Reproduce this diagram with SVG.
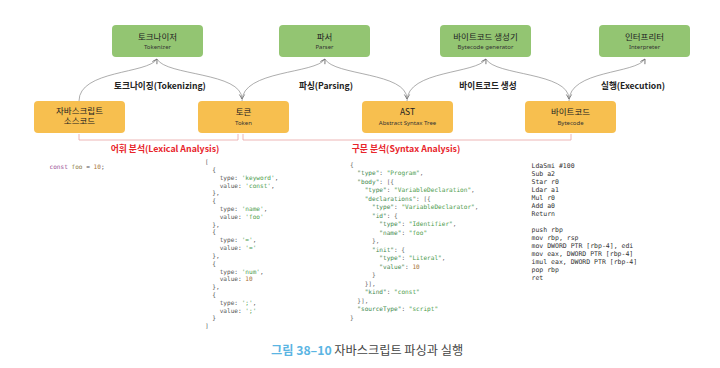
<svg xmlns="http://www.w3.org/2000/svg" width="720" height="368" viewBox="0 0 720 368">
<defs>
<marker id="arr" markerUnits="userSpaceOnUse" markerWidth="10" markerHeight="10" viewBox="-6 -5 8 10" refX="0" refY="0" orient="auto">
<path d="M-4.5,-2.6 L0,0 L-4.5,2.6" fill="none" stroke="#666" stroke-width="0.8"/>
</marker>
</defs>
<style>
.g{fill:#93c572}
.o{fill:#f7bf4f}
.t1{font-family:"Noto Sans CJK KR","Noto Sans",sans-serif;font-size:8.5px;fill:#222;text-anchor:middle}
.t2{font-family:"Noto Sans","Noto Sans CJK KR",sans-serif;font-size:6px;fill:#333;text-anchor:middle}
.lb{font-family:"Noto Sans CJK KR","Noto Sans",sans-serif;font-size:8.6px;font-weight:bold;fill:#222;text-anchor:middle}
.rl{font-family:"Noto Sans CJK KR","Noto Sans",sans-serif;font-size:8.8px;font-weight:bold;fill:#e8252b;text-anchor:middle}
.cn{fill:none;stroke:#8a8a8a;stroke-width:0.7}
.br{fill:none;stroke:#e9a3a3;stroke-width:0.8}
.code{font-family:"DejaVu Sans Mono","Liberation Mono",monospace;font-size:6.1px;fill:#555}
.ast{font-family:"DejaVu Sans Mono","Liberation Mono",monospace;font-size:6.1px;fill:#666}
.bc{font-family:"DejaVu Sans Mono","Liberation Mono",monospace;font-size:6.5px;fill:#333}
.s{fill:#4c9c4c}
.k{fill:#3f8a4f}
.n{fill:#a8743a}
.p{fill:#9a4f95}
.f{fill:#8c7a46}
</style>

<g id="connectors">
<path class="cn" d="M79,101 C79,70 148,74 157,59" marker-end="url(#arr)"/>
<path class="cn" d="M157,59 C166,76 242,72 242,99" marker-end="url(#arr)"/>
<path class="cn" d="M242,101 C242,70 316,74 325,59" marker-end="url(#arr)"/>
<path class="cn" d="M325,59 C334,76 407,72 407,99" marker-end="url(#arr)"/>
<path class="cn" d="M407,101 C407,70 477,74 486,59" marker-end="url(#arr)"/>
<path class="cn" d="M486,59 C495,76 569,72 569,99" marker-end="url(#arr)"/>
<path class="cn" d="M569,101 C569,70 636,74 645,59" marker-end="url(#arr)"/>
<text class="lb" x="160" y="89">토크나이징(Tokenizing)</text>
<text class="lb" x="326" y="89">파싱(Parsing)</text>
<text class="lb" x="488" y="89">바이트코드 생성</text>
<text class="lb" x="633" y="89">실행(Execution)</text>
</g>

<g id="tokenizer">
<rect class="g" x="112" y="25" width="91" height="32" rx="4"/>
<text class="t1" x="157.5" y="39.5">토크나이저</text>
<text class="t2" x="157.5" y="49">Tokenizer</text>
</g>
<g id="parser">
<rect class="g" x="279" y="25" width="91" height="32" rx="4"/>
<text class="t1" x="324.5" y="39.5">파서</text>
<text class="t2" x="324.5" y="49">Parser</text>
</g>
<g id="bytecode-generator">
<rect class="g" x="440" y="25" width="91" height="32" rx="4"/>
<text class="t1" x="485.5" y="39.5">바이트코드 생성기</text>
<text class="t2" x="485.5" y="49">Bytecode generator</text>
</g>
<g id="interpreter">
<rect class="g" x="599" y="25" width="91" height="32" rx="4"/>
<text class="t1" x="644.5" y="39.5">인터프리터</text>
<text class="t2" x="644.5" y="49">Interpreter</text>
</g>

<g id="source-code">
<rect class="o" x="34" y="101" width="91" height="32" rx="4"/>
<text class="t1" x="79.5" y="113.5">자바스크립트</text>
<text class="t1" x="79.5" y="124">소스코드</text>
</g>
<g id="token">
<rect class="o" x="198" y="101" width="91" height="32" rx="4"/>
<text class="t1" x="243.5" y="114.5">토큰</text>
<text class="t2" x="243.5" y="124.5">Token</text>
</g>
<g id="ast">
<rect class="o" x="362" y="101" width="91" height="32" rx="4"/>
<text class="t1" x="407.5" y="114.5">AST</text>
<text class="t2" x="407.5" y="124.5">Abstract Syntax Tree</text>
</g>
<g id="bytecode">
<rect class="o" x="525" y="101" width="91" height="32" rx="4"/>
<text class="t1" x="570.5" y="114.5">바이트코드</text>
<text class="t2" x="570.5" y="124.5">Bytecode</text>
</g>

<g id="lexical-analysis">
<path class="br" d="M79,134 V140 H238 V134"/>
<text class="rl" x="165" y="152">어휘 분석(Lexical Analysis)</text>
</g>
<g id="syntax-analysis">
<path class="br" d="M243,134 V140 H571 V134"/>
<text class="rl" x="406" y="152">구문 분석(Syntax Analysis)</text>
</g>

<g id="source-text">
<text class="code" x="49.5" y="169" xml:space="preserve"><tspan class="p">const</tspan> <tspan class="f">foo</tspan> = <tspan class="n">10</tspan>;</text>
</g>

<g id="tokens-text" class="code">
<text x="205" y="164" xml:space="preserve">[</text>
<text x="205" y="171.8" xml:space="preserve">  {</text>
<text x="205" y="179.6" xml:space="preserve">    type: <tspan class="s">'keyword'</tspan>,</text>
<text x="205" y="187.5" xml:space="preserve">    value: <tspan class="s">'const'</tspan>,</text>
<text x="205" y="195.3" xml:space="preserve">  },</text>
<text x="205" y="203.1" xml:space="preserve">  {</text>
<text x="205" y="210.9" xml:space="preserve">    type: <tspan class="s">'name'</tspan>,</text>
<text x="205" y="218.7" xml:space="preserve">    value: <tspan class="s">'foo'</tspan></text>
<text x="205" y="226.6" xml:space="preserve">  },</text>
<text x="205" y="234.4" xml:space="preserve">  {</text>
<text x="205" y="242.2" xml:space="preserve">    type: <tspan class="s">'='</tspan>,</text>
<text x="205" y="250" xml:space="preserve">    value: <tspan class="s">'='</tspan></text>
<text x="205" y="257.8" xml:space="preserve">  },</text>
<text x="205" y="265.7" xml:space="preserve">  {</text>
<text x="205" y="273.5" xml:space="preserve">    type: <tspan class="s">'num'</tspan>,</text>
<text x="205" y="281.3" xml:space="preserve">    value: <tspan class="n">10</tspan></text>
<text x="205" y="289.1" xml:space="preserve">  },</text>
<text x="205" y="296.9" xml:space="preserve">  {</text>
<text x="205" y="304.8" xml:space="preserve">    type: <tspan class="s">';'</tspan>,</text>
<text x="205" y="312.6" xml:space="preserve">    value: <tspan class="s">';'</tspan></text>
<text x="205" y="320.4" xml:space="preserve">  }</text>
<text x="205" y="328.2" xml:space="preserve">]</text>
</g>

<g id="ast-text" class="ast">
<text x="350" y="166.5" xml:space="preserve">{</text>
<text x="350" y="175" xml:space="preserve">  <tspan class="k">"type"</tspan>: <tspan class="s">"Program"</tspan>,</text>
<text x="350" y="183.5" xml:space="preserve">  <tspan class="k">"body"</tspan>: [{</text>
<text x="350" y="192" xml:space="preserve">    <tspan class="k">"type"</tspan>: <tspan class="s">"VariableDeclaration"</tspan>,</text>
<text x="350" y="200.6" xml:space="preserve">    <tspan class="k">"declarations"</tspan>: [{</text>
<text x="350" y="209.1" xml:space="preserve">      <tspan class="k">"type"</tspan>: <tspan class="s">"VariableDeclarator"</tspan>,</text>
<text x="350" y="217.6" xml:space="preserve">      <tspan class="k">"id"</tspan>: {</text>
<text x="350" y="226.1" xml:space="preserve">        <tspan class="k">"type"</tspan>: <tspan class="s">"Identifier"</tspan>,</text>
<text x="350" y="234.6" xml:space="preserve">        <tspan class="k">"name"</tspan>: <tspan class="s">"foo"</tspan></text>
<text x="350" y="243.1" xml:space="preserve">      },</text>
<text x="350" y="251.7" xml:space="preserve">      <tspan class="k">"init"</tspan>: {</text>
<text x="350" y="260.2" xml:space="preserve">        <tspan class="k">"type"</tspan>: <tspan class="s">"Literal"</tspan>,</text>
<text x="350" y="268.7" xml:space="preserve">        <tspan class="k">"value"</tspan>: <tspan class="n">10</tspan></text>
<text x="350" y="277.2" xml:space="preserve">      }</text>
<text x="350" y="285.7" xml:space="preserve">    }],</text>
<text x="350" y="294.2" xml:space="preserve">    <tspan class="k">"kind"</tspan>: <tspan class="s">"const"</tspan></text>
<text x="350" y="302.8" xml:space="preserve">  }],</text>
<text x="350" y="311.3" xml:space="preserve">  <tspan class="k">"sourceType"</tspan>: <tspan class="s">"script"</tspan></text>
<text x="350" y="319.8" xml:space="preserve">}</text>
</g>

<g id="bytecode-text" class="bc">
<text x="531.5" y="168.3">LdaSmi #100</text>
<text x="531.5" y="176.3">Sub a2</text>
<text x="531.5" y="184.3">Star r0</text>
<text x="531.5" y="192.3">Ldar a1</text>
<text x="531.5" y="200.3">Mul r0</text>
<text x="531.5" y="208.3">Add a0</text>
<text x="531.5" y="216.3">Return</text>
<text x="531.5" y="232.3">push rbp</text>
<text x="531.5" y="240.3">mov rbp, rsp</text>
<text x="531.5" y="248.3">mov DWORD PTR [rbp-4], edi</text>
<text x="531.5" y="256.3">mov eax, DWORD PTR [rbp-4]</text>
<text x="531.5" y="264.3">imul eax, DWORD PTR [rbp-4]</text>
<text x="531.5" y="272.3">pop rbp</text>
<text x="531.5" y="280.3">ret</text>
</g>

<g id="caption">
<text x="271" y="355" font-family="Noto Sans CJK KR, Noto Sans, sans-serif" font-size="12.2px" xml:space="preserve"><tspan fill="#5bb5e3" font-weight="bold">그림 38–10</tspan><tspan fill="#444"> 자바스크립트 파싱과 실행</tspan></text>
</g>
</svg>
